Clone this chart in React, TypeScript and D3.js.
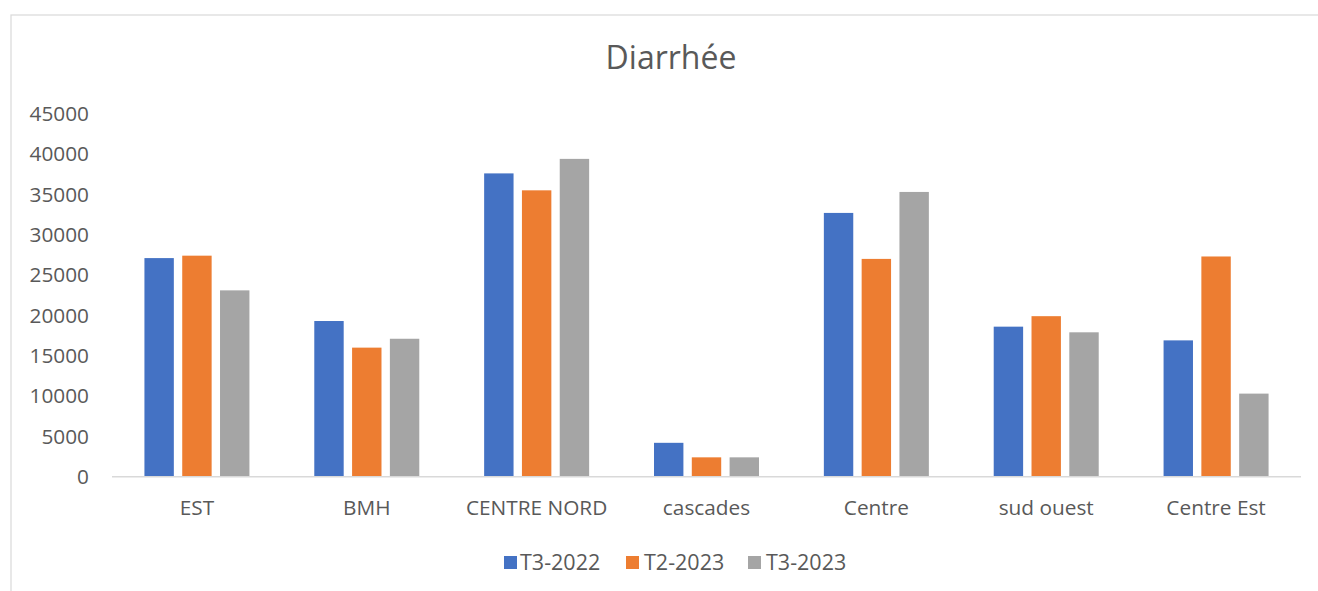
import React from "react";
import * as d3 from "d3";

const categories = ["EST", "BMH", "CENTRE NORD", "cascades", "Centre", "sud ouest", "Centre Est"];
const seriesNames = ["T3-2022", "T2-2023", "T3-2023"];
const t3_2022 = [27100, 19300, 37600, 4200, 32700, 18600, 16900];
const t2_2023 = [27400, 16000, 35500, 2400, 27000, 19900, 27300];
const t3_2023 = [23100, 17100, 39400, 2400, 35300, 17900, 10300];
const yTicks = [0, 5000, 10000, 15000, 20000, 25000, 30000, 35000, 40000, 45000];
const colors = ["#4472C4", "#ED7D31", "#A5A5A5"];

const W = 1318;
const H = 591;
const FONT = "'Open Sans', sans-serif";

export default function App() {
  const seriesValues = [t3_2022, t2_2023, t3_2023];
  const left = 112;
  const right = 1301;
  const y0 = 476.7;
  const yTop = 113.7;

  const x0 = d3.scaleBand<string>().domain(categories).range([left, right]).padding(0);
  const bw = x0.bandwidth();
  const groupW = 105;
  const x1 = d3
    .scaleBand<string>()
    .domain(seriesNames)
    .range([(bw - groupW) / 2, (bw + groupW) / 2])
    .paddingInner(0.222)
    .paddingOuter(0);
  const y = d3.scaleLinear().domain([0, 45000]).range([y0, yTop]);

  const legendItems = [
    { x: 504, tx: 520 },
    { x: 626, tx: 644 },
    { x: 748, tx: 766 },
  ];

  return (
    <svg
      width={W}
      height={H}
      style={{ position: "fixed", left: 0, top: 0, background: "#fff", display: "block" }}
    >
      <rect x={0} y={0} width={W} height={H} fill="#fff" />
      <rect x={11} y={15} width={W + 20} height={H + 20} fill="#fff" stroke="#D9D9D9" strokeWidth={1.2} />
      <text x={671} y={69} textAnchor="middle" fontFamily={FONT} fontSize={32} fill="#595959">
        Diarrhée
      </text>
      {yTicks.map((t) => (
        <text
          key={t}
          x={89}
          y={y(t)}
          dy="0.35em"
          textAnchor="end"
          fontFamily={FONT}
          fontSize={20.8}
          fill="#595959"
        >
          {t}
        </text>
      ))}
      {categories.map((c, i) => (
        <g key={c} transform={`translate(${x0(c)},0)`}>
          {seriesNames.map((s, j) => {
            const v = seriesValues[j][i];
            return (
              <rect
                key={s}
                x={x1(s)}
                y={y(v)}
                width={x1.bandwidth()}
                height={y0 - y(v)}
                fill={colors[j]}
              />
            );
          })}
        </g>
      ))}
      <line x1={left} x2={right} y1={y0} y2={y0} stroke="#D9D9D9" strokeWidth={1.5} />
      {categories.map((c) => (
        <text
          key={c}
          x={(x0(c) as number) + bw / 2}
          y={508}
          dy="0.35em"
          textAnchor="middle"
          fontFamily={FONT}
          fontSize={20.8}
          fill="#595959"
        >
          {c}
        </text>
      ))}
      {seriesNames.map((s, j) => (
        <g key={s}>
          <rect x={legendItems[j].x} y={556} width={13} height={13} fill={colors[j]} />
          <text
            x={legendItems[j].tx}
            y={562.5}
            dy="0.35em"
            fontFamily={FONT}
            fontSize={21.5}
            fill="#595959"
          >
            {s}
          </text>
        </g>
      ))}
    </svg>
  );
}
